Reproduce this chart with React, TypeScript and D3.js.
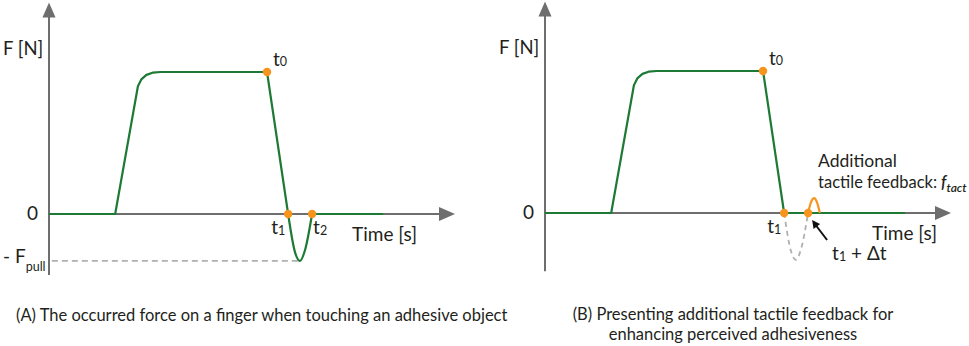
import React from 'react';
import * as d3 from 'd3';

// abstract time units (0..100 = axis length), force normalised to plateau = 1
const pressTime = [0, 16.3, 21.9, 22.8, 24.0, 25.5, 27.5, 53.7, 58.9];
const pressForce = [0, 0, 0.9, 0.95, 0.98, 0.995, 1, 1, 0];
const dipTime = [58.9, 60.6, 61.8, 63.1, 64.8];
const dipForce = [0, -0.27, -0.33, -0.25, 0];
const tailTimeA = [64.8, 82.3];
const tailTimeB = [58.9, 88.7];
const bumpTime = [64.8, 65.5, 66.3, 67.0, 67.7];
const bumpForce = [0, 0.075, 0.105, 0.075, 0];
const markerTimes = { t0: 53.7, t1: 58.9, t2: 64.8 };
const axisTimeMax = 100;
const axisForceMax = 1.49;
const axisForceMinA = -0.43;
const axisForceMinB = -0.41;
const pullForce = -0.33;

const captionA = '(A) The occurred force on a finger when touching an adhesive object';
const captionB = ['(B) Presenting additional tactile feedback for', 'enhancing perceived adhesiveness'];

const GREEN = '#1d7a34';
const ORANGE = '#f7941d';
const AXIS = '#6e6e6e';
const DASH = '#b0b0b0';
const FONT = 'Lato, "Open Sans", sans-serif';

type Pt = [number, number];
const zip = (t: number[], f: number[]): Pt[] => t.map((v, i) => [v, f[i]]);

interface PanelProps {
  x0: number;
  y0: number;
  forceMin: number;
  variant: 'A' | 'B';
}

const Panel: React.FC<PanelProps> = ({ x0, y0, forceMin, variant }) => {
  const x = d3.scaleLinear().domain([0, 100]).range([x0, x0 + 406]);
  const y = d3.scaleLinear().domain([0, 1]).range([y0, y0 - 142]);

  const lin = d3.line<Pt>().x(d => x(d[0])).y(d => y(d[1]));
  const smooth = d3.line<Pt>().x(d => x(d[0])).y(d => y(d[1])).curve(d3.curveMonotoneX);

  const press = lin(zip(pressTime, pressForce)) || '';
  const dip = smooth(zip(dipTime, dipForce)) || '';
  const tailT = variant === 'A' ? tailTimeA : tailTimeB;
  const tail = lin(zip(tailT, tailT.map(() => 0))) || '';
  const bump = smooth(zip(bumpTime, bumpForce)) || '';

  // axes
  const ox = x(0), oy = y(0);
  const tipX = x(axisTimeMax), tipY = y(axisForceMax);
  const bottom = y(forceMin);
  const xHead = `M${tipX},${oy} L${tipX - 16},${oy - 7} L${tipX - 16},${oy + 7} Z`;
  const yHead = `M${ox},${tipY} L${ox - 6.5},${tipY + 15} L${ox + 6.5},${tipY + 15} Z`;

  const fs = 19;
  const sub = 12.5;

  return (
    <g fontFamily={FONT} fill="#231f20">
      <line x1={ox} y1={bottom} x2={ox} y2={tipY + 12} stroke={AXIS} strokeWidth={2} />
      <path d={yHead} fill={AXIS} />
      <line x1={ox} y1={oy} x2={tipX - 12} y2={oy} stroke={AXIS} strokeWidth={2} />
      <path d={xHead} fill={AXIS} />

      {variant === 'A' && (
        <line x1={x(0.7)} x2={x(dipTime[2])} y1={y(pullForce)} y2={y(pullForce)}
          stroke={DASH} strokeWidth={1.6} strokeDasharray="6,4" />
      )}

      <path d={press} fill="none" stroke={GREEN} strokeWidth={2.2} strokeLinejoin="round" />
      {variant === 'A' ? (
        <path d={dip} fill="none" stroke={GREEN} strokeWidth={2.2} />
      ) : (
        <path d={dip} fill="none" stroke={DASH} strokeWidth={1.8} strokeDasharray="5,4" />
      )}
      <path d={tail} fill="none" stroke={GREEN} strokeWidth={2.2} />
      {variant === 'B' && <path d={bump} fill="none" stroke={ORANGE} strokeWidth={2.2} />}

      <circle cx={x(markerTimes.t0)} cy={y(1)} r={4.2} fill={ORANGE} />
      <circle cx={x(markerTimes.t1)} cy={y(0)} r={4.2} fill={ORANGE} />
      <circle cx={x(markerTimes.t2)} cy={y(0)} r={4.2} fill={ORANGE} />

      <text x={ox - 46} y={y(axisForceMax) + 53} fontSize={18.5}>F [N]</text>
      <text x={ox - 22} y={oy + 6} fontSize={fs}>0</text>
      {variant === 'A' && (
        <text x={ox - 46} y={y(pullForce) + 2} fontSize={fs}>
          - F<tspan fontSize={12.5} dy={8}>pull</tspan>
        </text>
      )}
      <text x={x(markerTimes.t0) + 6} y={y(1) - 6} fontSize={fs}>
        t<tspan fontSize={sub}>0</tspan>
      </text>
      <text x={x(markerTimes.t1) - 17} y={oy + 20} fontSize={fs}>
        t<tspan fontSize={sub} dy={1}>1</tspan>
      </text>
      {variant === 'A' && (
        <text x={x(markerTimes.t2) + 1} y={oy + 20} fontSize={fs}>
          t<tspan fontSize={sub} dy={1}>2</tspan>
        </text>
      )}
      <text x={tipX - (variant === 'A' ? 38 : 14)} y={oy + 27} fontSize={19} textAnchor="end">Time [s]</text>

      {variant === 'B' && (
        <g>
          <line x1={x(markerTimes.t2) + 19} y1={oy + 27} x2={x(markerTimes.t2) + 6} y2={oy + 10}
            stroke="#111" strokeWidth={2} />
          <path
            d={`M${x(markerTimes.t2) + 4},${oy + 7} l1.5,9 l6.5,-5 Z`}
            fill="#111" />
          <text x={x(markerTimes.t2) + 24} y={oy + 47} fontSize={fs}>
            t<tspan fontSize={sub} dy={1}>1</tspan>
            <tspan dy={-1}> + Δt</tspan>
          </text>
          <text x={x(markerTimes.t2) + 10} y={oy - 46} fontSize={17.5}>Additional</text>
          <text x={x(markerTimes.t2) + 10} y={oy - 25} fontSize={16.5}>
            tactile feedback:<tspan fontStyle="italic" fontWeight={600} dx={4}>f</tspan>
            <tspan fontStyle="italic" fontWeight={600} fontSize={12} dy={4}>tact</tspan>
          </text>
        </g>
      )}
    </g>
  );
};

export default function App() {
  return (
    <svg width={969} height={346} viewBox="0 0 969 346"
      style={{ position: 'absolute', left: 0, top: 0, background: '#fff' }}>
      <Panel x0={49} y0={214} forceMin={axisForceMinA} variant="A" />
      <Panel x0={545} y0={213} forceMin={axisForceMinB} variant="B" />
      <g fontFamily={FONT} fontSize={16.5} fill="#231f20">
        <text x={16} y={321}>{captionA}</text>
        <text x={733} y={320} textAnchor="middle">{captionB[0]}</text>
        <text x={733} y={340} textAnchor="middle">{captionB[1]}</text>
      </g>
    </svg>
  );
}
